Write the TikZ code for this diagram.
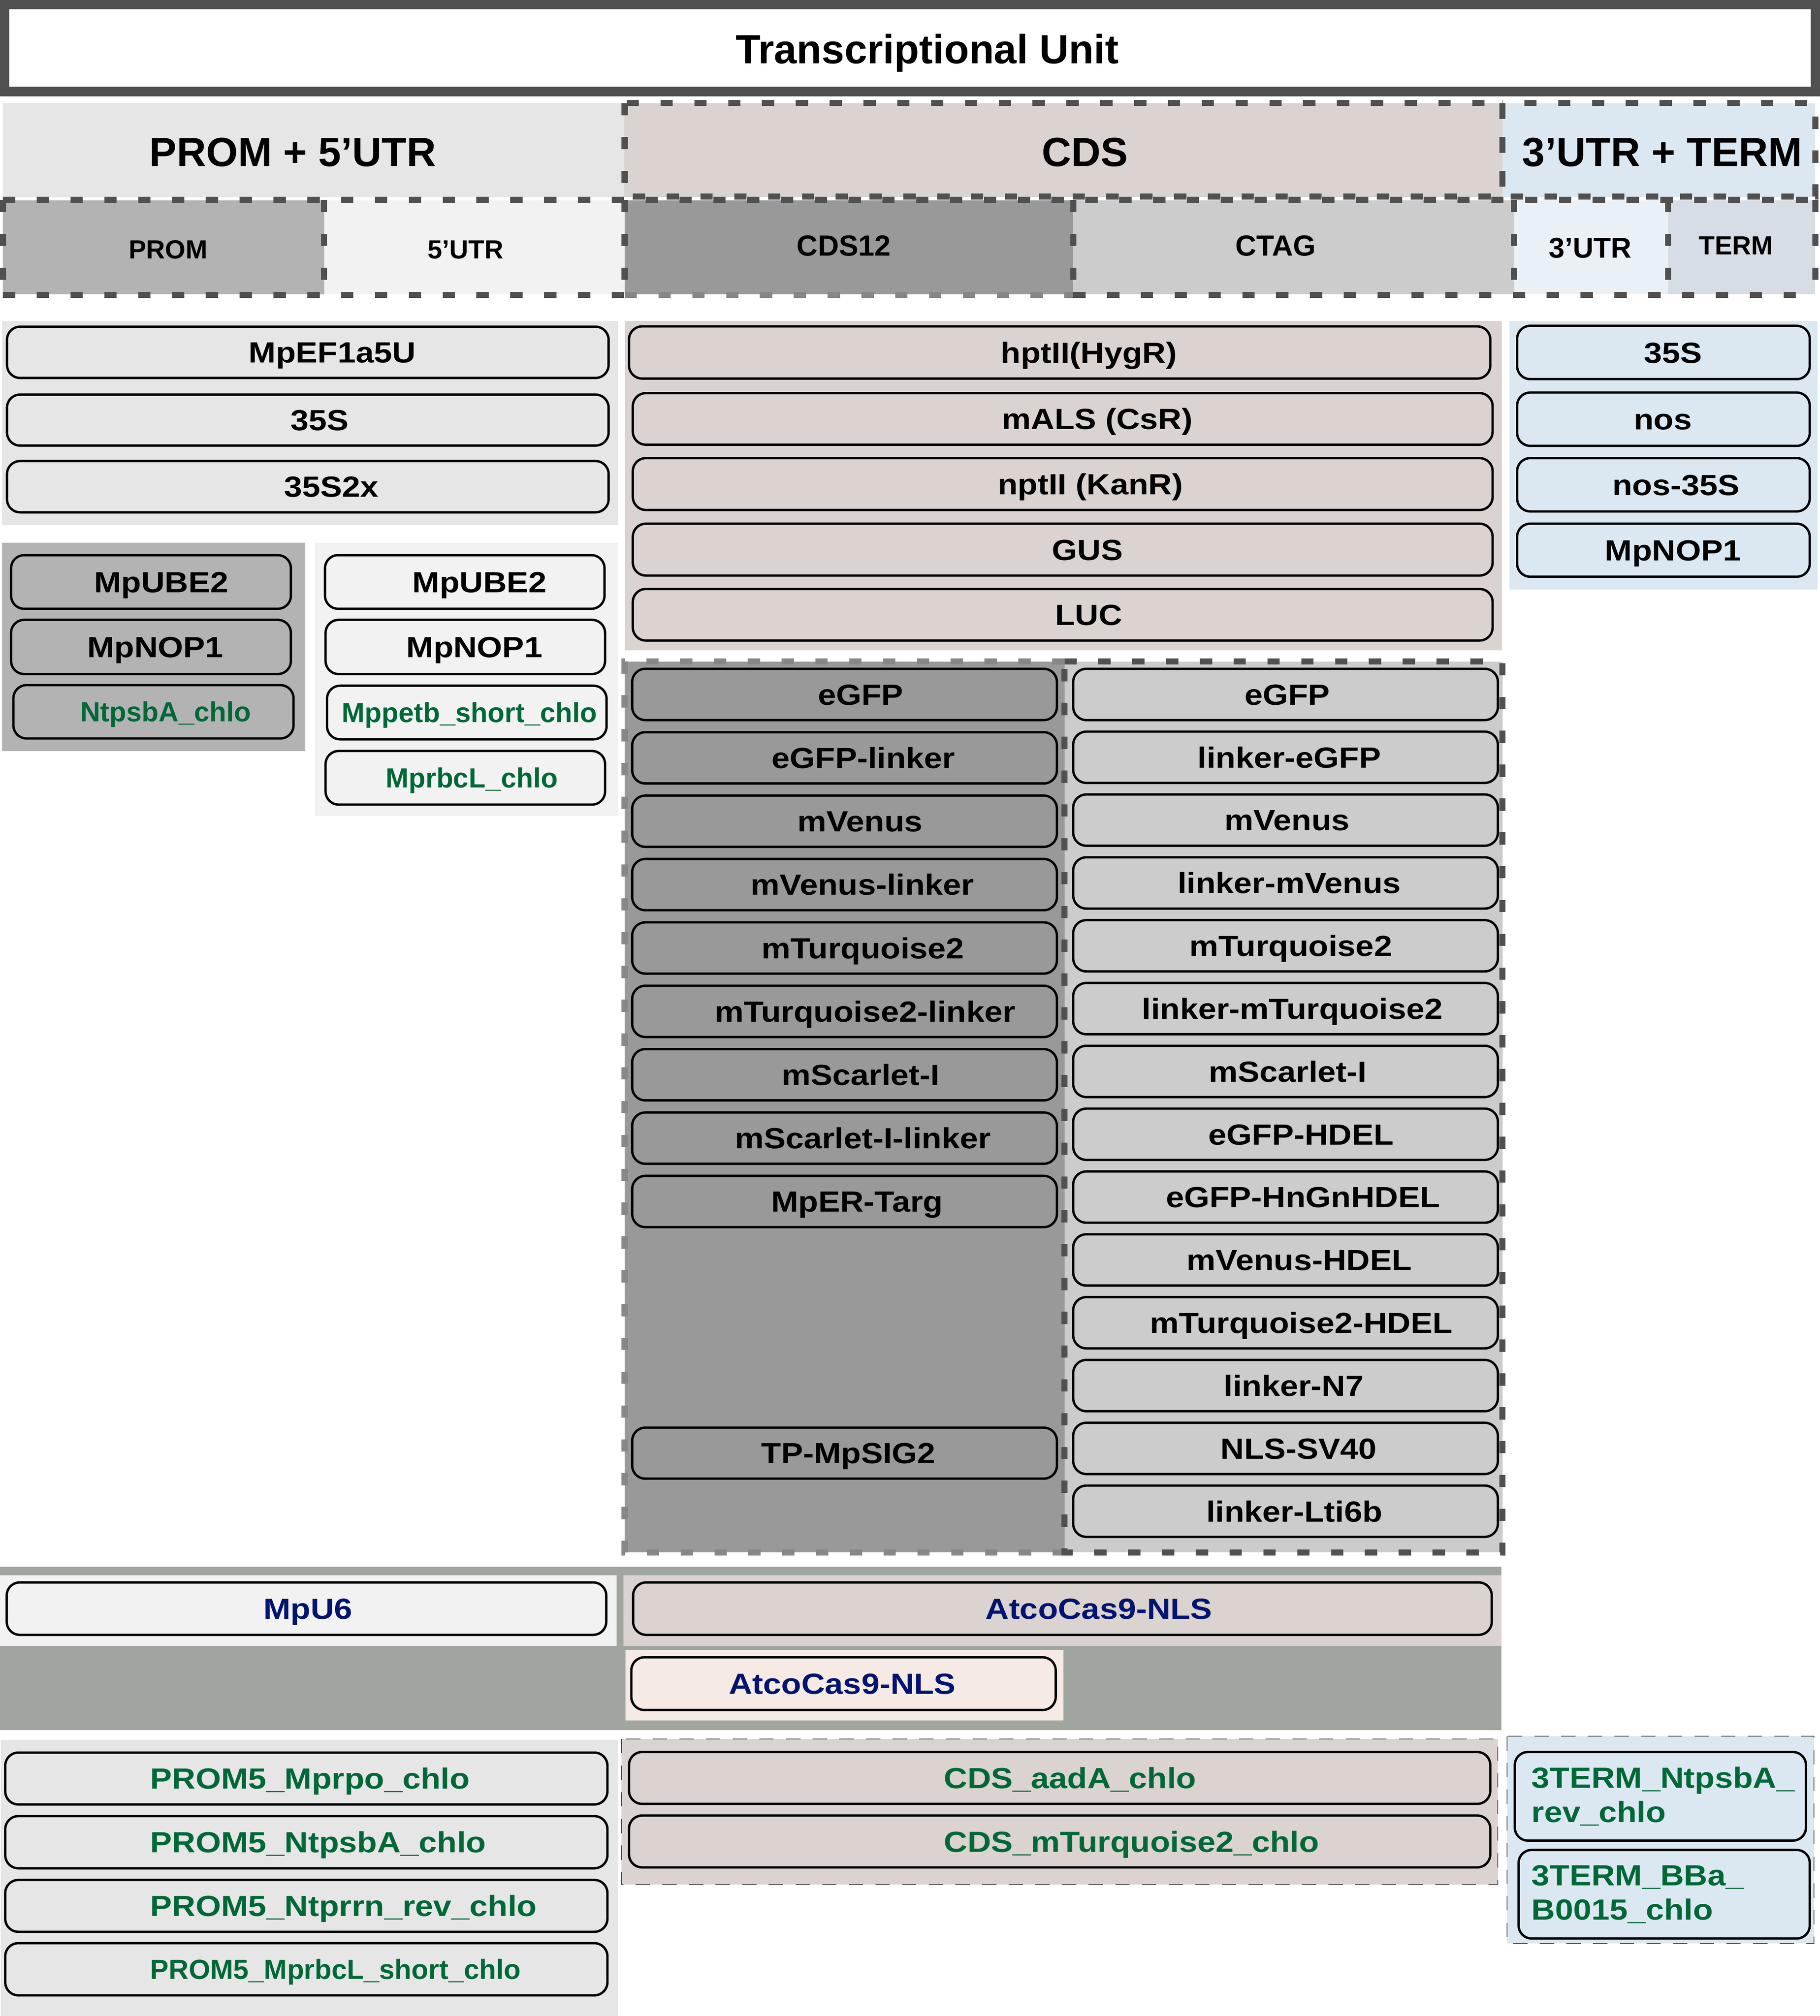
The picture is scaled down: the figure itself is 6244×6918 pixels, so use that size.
\documentclass[tikz,border=0pt]{standalone}
\usepackage{fontspec}
\setmainfont{Liberation Sans}
\newfontfamily\widefont{Liberation Sans}[FakeStretch=1.12]
\usetikzlibrary{fit}
\definecolor{bord}{RGB}{80,80,80}
\definecolor{bordl}{RGB}{135,135,135}
\definecolor{cA}{HTML}{E6E6E6}
\definecolor{cCDS}{HTML}{DBD3D0}
\definecolor{cTU}{HTML}{DCE8F1}
\definecolor{cPROM}{HTML}{B3B3B3}
\definecolor{cUTRf}{HTML}{F2F2F2}
\definecolor{cCtw}{HTML}{999999}
\definecolor{cCTAG}{HTML}{CCCCCC}
\definecolor{cUTRt}{HTML}{EAF1F6}
\definecolor{cTERM}{HTML}{D6DDE4}
\definecolor{cBand}{HTML}{A0A69F}
\definecolor{cPink}{HTML}{F6EBE4}
\definecolor{gtxt}{RGB}{0,104,55}
\definecolor{ntxt}{RGB}{0,20,112}
\newcommand\mkbox[9]{%
  \node[ibox,fill=#6,fit={(#2,#3) (#4,#5)}] (#1) {};
  \node[#7] (t#1) at ([xshift=#8*0.01cm]#1.center) {#9};}
\newcommand\mkboxl[9]{%
  \node[ibox,fill=#6,fit={(#2,#3) (#4,#5)}] (#1) {};
  \node[#7,anchor=west] (t#1) at ([xshift=#8*0.01cm]#1.west) {#9};}
\begin{document}
\begin{tikzpicture}[x=0.01cm,y=-0.01cm,
  dsh/.style={draw=bord,line width=6pt,dash pattern=on 12pt off 21pt},
  dshl/.style={dsh,draw=bordl},
  tdsh/.style={draw=bord,line width=0.8pt,dash pattern=on 14pt off 12pt},
  ibox/.style={draw=black,line width=2.3pt,rounded corners=0.45cm,inner sep=0pt},
  hd/.style={font=\bfseries\fontsize{#1pt}{#1pt}\selectfont,text height=0.716*#1pt,text depth=0pt,inner sep=0pt},
  it/.style={font=\widefont\bfseries\fontsize{28.45pt}{30pt}\selectfont,text height=20.4pt,text depth=0pt,inner sep=0pt},
  itg/.style={it,text=gtxt},
  itn/.style={it,text=ntxt},
  itgs/.style={font=\bfseries\fontsize{27pt}{28pt}\selectfont,text=gtxt,text height=19.3pt,text depth=0pt,inner sep=0pt},
  itgm/.style={font=\widefont\bfseries\fontsize{28.45pt}{33.6pt}\selectfont,text=gtxt,align=left,inner sep=0pt}
]
\useasboundingbox (0,0) rectangle (6244,6918);
\fill[white] (0,0) rectangle (6244,6918);

% ---------- title ----------
\draw[draw=bord,line width=9.1pt,fill=white] (16,16) rectangle (6228,314);
\node[hd=39.8] (title) at (3181,168) {Transcriptional Unit};

% ---------- row 2 ----------
\fill[cA] (10,354) rectangle (2142,677);
\fill[cCDS] (2142,354) rectangle (5155,677);
\fill[cTU] (5155,354) rectangle (6228,677);
\node[hd=39.8] (hPU) at (1005,520) {PROM + 5’UTR};
\node[hd=39.8] (hCDS) at (3722,520) {CDS};
\node[hd=39.8] (hUT) at (5703,520) {3’UTR + TERM};
\draw[dsh] (2143,354) rectangle (5155,674);
\draw[dsh] (5155,354) rectangle (6228,674);

% ---------- row 3 ----------
\fill[cPROM] (10,688) rectangle (1112,1010);
\fill[cUTRf] (1112,688) rectangle (2143,1010);
\fill[cCtw] (2143,688) rectangle (3682,1010);
\fill[cCTAG] (3682,688) rectangle (5195,1010);
\fill[cUTRt] (5195,688) rectangle (5723,1010);
\fill[cTERM] (5723,688) rectangle (6228,1010);
\node[hd=25.6] (hPROM) at (577,856) {PROM};
\node[hd=25.6] (hUTR5) at (1597,856) {5’UTR};
\node[hd=28.45] (hC12) at (2895,842) {CDS12};
\node[hd=28.45] (hCTAG) at (4376,842) {CTAG};
\node[hd=27.9] (hUTR3) at (5456,849) {3’UTR};
\node[hd=25.6] (hTERM) at (5956,842) {TERM};
\draw[dsh] (10,686) -- (6228,686);
\draw[dsh] (10,1012) -- (2143,1012);
\draw[dshl] (2143,1012) -- (3682,1012);
\draw[dsh] (3682,1012) -- (6228,1012);
\foreach \xx in {10,1112,2143,3682,5195,5723,6228}{\draw[dsh] (\xx,686) -- (\xx,1012);}

% ---------- PROM+5'UTR parts ----------
\fill[cA] (7,1102) rectangle (2121,1802);
\mkbox{p1}{24}{1121}{2088}{1297}{cA}{it}{84}{MpEF1a5U}
\mkbox{p2}{24}{1354}{2088}{1529}{cA}{it}{41}{35S}
\mkbox{p3}{24}{1582}{2088}{1758}{cA}{it}{81}{35S2x}

\fill[cPROM] (7,1862) rectangle (1047,2577);
\mkbox{pr1}{38}{1905}{998}{2089}{cPROM}{it}{35}{MpUBE2}
\mkbox{pr2}{38}{2127}{998}{2313}{cPROM}{it}{15}{MpNOP1}
\mkbox{pr3}{46}{2351}{1007}{2534}{cPROM}{itgs}{42}{NtpsbA\_chlo}

\fill[cUTRf] (1080,1862) rectangle (2121,2801);
\mkbox{u1}{1115}{1905}{2074}{2089}{cUTRf}{it}{51}{MpUBE2}
\mkbox{u2}{1117}{2127}{2076}{2313}{cUTRf}{it}{31}{MpNOP1}
\mkbox{u3}{1122}{2353}{2081}{2537}{cUTRf}{itgs}{9}{Mppetb\_short\_chlo}
\mkbox{u4}{1117}{2577}{2076}{2761}{cUTRf}{itgs}{22}{MprbcL\_chlo}

% ---------- CDS parts ----------
\fill[cCDS] (2145,1102) rectangle (5152,2232);
\mkbox{c1}{2158}{1120}{5113}{1299}{cCDS}{it}{100}{hptII(HygR)}
\mkbox{c2}{2171}{1349}{5121}{1526}{cCDS}{it}{119}{mALS (CsR)}
\mkbox{c3}{2171}{1572}{5121}{1750}{cCDS}{it}{95}{nptII (KanR)}
\mkbox{c4}{2171}{1797}{5121}{1975}{cCDS}{it}{85}{GUS}
\mkbox{c5}{2171}{2021}{5121}{2198}{cCDS}{it}{89}{LUC}

% ---------- 3'UTR+TERM parts ----------
\fill[cTU] (5179,1102) rectangle (6236,2023);
\mkbox{e1}{5205}{1118}{6209}{1301}{cTU}{it}{33}{35S}
\mkbox{e2}{5205}{1347}{6209}{1530}{cTU}{it}{-2}{nos}
\mkbox{e3}{5205}{1572}{6209}{1755}{cTU}{it}{43}{nos-35S}
\mkbox{e4}{5205}{1797}{6209}{1979}{cTU}{it}{33}{MpNOP1}

% ---------- CDS12 / CTAG lists ----------
\fill[cCtw] (2143,2270) rectangle (3652,5327);
\fill[cCTAG] (3652,2270) rectangle (5155,5327);
\foreach \i/\lab/\dx in {0/eGFP/55,1/eGFP-linker/65,2/mVenus/53,3/mVenus-linker/61,4/mTurquoise2/63,5/mTurquoise2-linker/70,6/mScarlet-I/56,7/mScarlet-I-linker/63,8/MpER-Targ/43}{
  \pgfmathsetmacro\yt{2295+217.5*\i}
  \pgfmathsetmacro\yb{\yt+176}
  \mkbox{cw\i}{2169}{\yt}{3626}{\yb}{cCtw}{it}{\dx}{\lab}}
\mkbox{cwsig}{2169}{4899}{3626}{5074}{cCtw}{it}{13}{TP-MpSIG2}
\foreach \i/\lab/\dx in {0/eGFP/6,1/linker-eGFP/13,2/mVenus/5,3/linker-mVenus/13,4/mTurquoise2/18,5/linker-mTurquoise2/23,6/mScarlet-I/8,7/eGFP-HDEL/53,8/eGFP-HnGnHDEL/60,9/mVenus-HDEL/47,10/mTurquoise2-HDEL/54,11/linker-N7/28,12/NLS-SV40/45,13/linker-Lti6b/30}{
  \pgfmathsetmacro\yt{2295+215.6*\i}
  \pgfmathsetmacro\yb{\yt+176}
  \mkbox{ct\i}{3682}{\yt}{5139}{\yb}{cCTAG}{it}{\dx}{\lab}}
\draw[dshl] (3652,2270) -- (2143,2270) -- (2143,5327) -- (3652,5327);
\draw[dsh] (3652,2270) -- (5155,2270) -- (5155,5327) -- (3652,5327) -- cycle;

% ---------- Cas9 band ----------
\fill[cBand] (0,5376) rectangle (5151,5937);
\fill[cUTRf] (0,5406) rectangle (2116,5648);
\fill[cCDS] (2139,5406) rectangle (5151,5648);
\fill[cPink] (2146,5662) rectangle (3648,5904);
\mkbox{g1}{23}{5430}{2080}{5610}{cUTRf}{itn}{5}{MpU6}
\mkbox{g2}{2172}{5430}{5118}{5610}{cCDS}{itn}{125}{AtcoCas9-NLS}
\mkbox{g3}{2166}{5687}{3622}{5868}{cPink}{itn}{-4}{AtcoCas9-NLS}

% ---------- chloroplast parts ----------
\fill[cA] (3,5970) rectangle (2119,6918);
\mkboxl{b1}{18}{6014}{2084}{6192}{cA}{itg}{501}{PROM5\_Mprpo\_chlo}
\mkboxl{b2}{18}{6232}{2084}{6411}{cA}{itg}{501}{PROM5\_NtpsbA\_chlo}
\mkboxl{b3}{18}{6451}{2084}{6629}{cA}{itg}{501}{PROM5\_Ntprrn\_rev\_chlo}
\mkboxl{b4}{18}{6668}{2084}{6847}{cA}{itgs}{501}{PROM5\_MprbcL\_short\_chlo}

\fill[cCDS] (2132,5967) rectangle (5139,6467);
\mkboxl{d1}{2158}{6012}{5113}{6190}{cCDS}{itg}{1084}{CDS\_aadA\_chlo}
\mkboxl{d2}{2158}{6230}{5113}{6408}{cCDS}{itg}{1084}{CDS\_mTurquoise2\_chlo}
\draw[tdsh] (2132,5967) rectangle (5139,6467);

\fill[cTU] (5171,5958) rectangle (6223,6669);
\mkboxl{k1}{5197}{6012}{6196}{6316}{cTU}{itgm}{61}{3TERM\_NtpsbA\_\\rev\_chlo}
\mkboxl{k2}{5210}{6348}{6209}{6652}{cTU}{itgm}{48}{3TERM\_BBa\_\\B0015\_chlo}
\draw[tdsh] (5171,5958) rectangle (6223,6669);
\end{tikzpicture}
\end{document}
